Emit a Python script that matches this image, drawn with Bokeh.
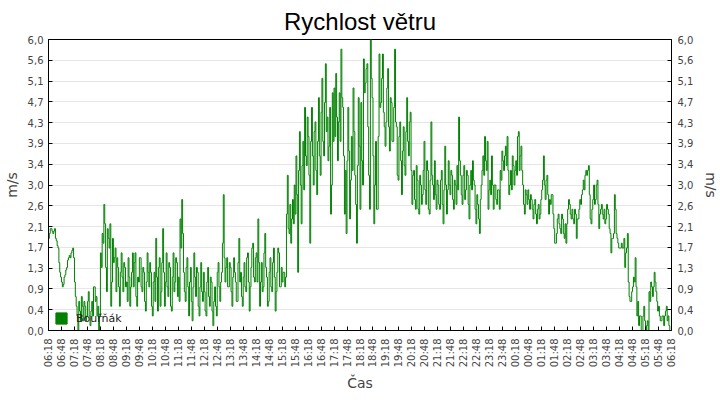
from bokeh.plotting import figure
from bokeh.models import (Range1d, LinearAxis, FixedTicker, CustomJSTickFormatter,
                          Legend, LegendItem, ColumnDataSource)
from bokeh.embed import file_html
from bokeh.resources import INLINE

# wind speed (m/s), one value every 2 minutes; each list is one hour starting at hh:18
h06 = [1.9, 2.0, 2.1, 2.1, 2.05, 2.0, 2.05, 2.1, 1.9, 1.85, 1.75, 1.7, 1.4, 1.2, 1.1, 1.0, 0.9, 0.95, 1.1, 1.15, 1.25, 1.3, 1.45, 1.5, 1.55, 1.5, 1.6, 1.65, 1.7, 1.5]
h07 = [1.0, 0.7, 0.5, 0.3, 0.0, 0.6, 0.4, 0.2, 0.7, 0.5, 0.2, 0.6, 0.5, 0.2, 0.3, 0.6, 0.8, 0.3, 0.1, 0.4, 0.6, 0.3, 0.9, 0.9, 0.6, 0.7, 0.3, 0.5, 0.0, 0.3]
h08 = [1.6, 1.3, 2.0, 1.8, 2.6, 2.2, 1.3, 0.8, 2.1, 1.9, 1.7, 2.2, 0.5, 1.0, 1.9, 1.4, 1.5, 1.7, 0.8, 1.5, 1.3, 0.9, 0.5, 1.2, 1.6, 1.1, 0.8, 1.4, 1.3, 0.9]
h09 = [1.0, 0.6, 1.5, 1.1, 0.5, 0.9, 1.2, 1.6, 0.9, 1.4, 1.6, 0.7, 0.5, 1.1, 1.0, 1.5, 1.5, 0.9, 0.8, 1.3, 1.2, 0.6, 0.4, 1.0, 1.6, 1.2, 0.9, 1.4, 1.2, 0.5]
h10 = [0.3, 1.0, 1.2, 0.6, 1.9, 1.1, 0.4, 1.3, 1.5, 0.5, 0.8, 1.4, 2.1, 1.2, 0.5, 1.0, 1.6, 0.9, 0.7, 1.4, 1.3, 0.5, 0.4, 1.1, 1.6, 0.8, 1.0, 1.5, 1.4, 0.7]
h11 = [1.1, 0.6, 2.3, 1.7, 2.7, 2.0, 1.2, 0.8, 0.6, 1.3, 1.5, 0.9, 0.3, 1.0, 1.3, 0.6, 0.2, 0.9, 1.6, 1.1, 0.7, 1.3, 1.2, 0.5, 0.3, 0.9, 1.4, 0.8, 0.6, 1.2]
h12 = [0.8, 0.4, 0.3, 1.0, 1.3, 0.7, 0.5, 1.1, 1.0, 0.4, 0.1, 0.6, 0.9, 0.5, 0.3, 1.2, 1.4, 0.9, 0.6, 1.0, 1.2, 1.8, 2.8, 1.5, 1.0, 1.3, 1.5, 0.9, 0.9, 1.4]
h13 = [1.3, 0.8, 0.5, 1.1, 1.5, 1.2, 1.0, 0.6, 0.6, 1.4, 1.9, 1.0, 1.2, 0.7, 0.5, 1.1, 1.4, 0.9, 0.8, 1.5, 1.6, 1.0, 0.4, 0.9, 1.3, 1.7, 1.8, 1.1, 1.0, 1.5]
h14 = [1.6, 1.0, 2.3, 1.4, 0.5, 1.0, 1.4, 0.8, 0.9, 1.6, 2.0, 1.3, 1.1, 0.5, 0.6, 1.2, 1.5, 0.9, 0.8, 1.4, 1.7, 1.1, 0.4, 0.8, 1.2, 1.7, 1.6, 0.9, 0.9, 1.3]
h15 = [1.0, 1.2, 1.2, 0.9, 1.1, 2.4, 3.2, 2.1, 2.0, 2.6, 1.8, 2.3, 2.7, 2.2, 3.0, 2.4, 3.6, 2.8, 1.2, 3.3, 4.1, 3.0, 2.2, 3.4, 3.9, 2.9, 4.6, 3.6, 3.4, 4.4]
h16 = [4.0, 3.2, 1.8, 3.9, 4.6, 3.6, 3.0, 4.1, 4.3, 3.3, 2.8, 3.9, 4.8, 3.6, 3.2, 4.5, 5.2, 3.9, 3.6, 4.7, 5.5, 4.1, 4.4, 3.5, 3.8, 4.6, 2.4, 3.0, 4.9, 3.9]
h17 = [5.0, 4.0, 5.3, 4.4, 3.5, 4.3, 4.9, 3.9, 5.8, 4.8, 4.6, 3.6, 2.4, 3.3, 2.0, 3.5, 4.6, 3.7, 2.3, 3.1, 4.0, 3.3, 5.0, 4.1, 3.2, 2.6, 1.8, 3.4, 4.8, 3.8]
h18 = [2.5, 4.7, 3.5, 3.0, 5.6, 4.9, 5.1, 5.4, 5.5, 4.2, 3.2, 2.5, 6.0, 5.2, 4.8, 3.6, 2.2, 3.0, 3.9, 2.5, 2.5, 4.0, 5.7, 4.6, 4.7, 5.2, 5.7, 4.5, 4.2, 3.8]
h19 = [4.3, 5.0, 5.4, 4.2, 3.7, 4.8, 4.7, 3.9, 3.9, 4.6, 5.8, 4.3, 4.2, 3.2, 3.1, 4.0, 4.3, 3.5, 2.8, 3.7, 4.2, 3.4, 3.2, 4.1, 4.8, 3.9, 3.6, 4.3, 4.5, 3.3]
h20 = [2.6, 3.2, 3.3, 2.7, 2.5, 3.4, 3.1, 2.5, 2.4, 3.2, 3.0, 2.6, 2.8, 3.3, 3.9, 2.9, 2.6, 3.5, 3.3, 2.5, 2.4, 3.1, 4.3, 3.2, 3.0, 2.7, 3.5, 2.8, 2.5, 3.1]
h21 = [3.0, 2.6, 2.5, 3.1, 3.3, 2.6, 2.2, 2.9, 3.8, 3.0, 2.4, 2.9, 3.5, 3.0, 2.8, 3.3, 3.2, 2.7, 2.5, 3.1, 3.0, 2.6, 3.4, 2.9, 4.4, 3.5, 3.2, 2.8, 2.6, 3.2]
h22 = [3.4, 2.7, 2.9, 3.3, 3.2, 2.6, 2.3, 3.0, 3.3, 2.9, 3.5, 3.1, 3.0, 2.5, 2.2, 2.8, 2.6, 2.3, 2.0, 2.7, 3.0, 3.3, 3.6, 3.2, 4.0, 3.5, 3.3, 3.9, 2.5, 2.9]
h23 = [3.1, 2.8, 3.6, 3.0, 2.5, 3.0, 3.0, 2.7, 2.6, 2.9, 2.9, 2.5, 3.3, 3.1, 3.7, 3.5, 3.3, 3.6, 3.8, 3.4, 4.0, 3.3, 2.8, 3.0, 3.3, 2.9, 3.6, 3.4, 3.0, 3.3]
h00 = [3.5, 3.2, 4.0, 4.1, 3.3, 3.6, 3.8, 3.3, 3.0, 2.6, 2.4, 2.9, 2.8, 2.6, 2.9, 2.7, 2.5, 2.8, 2.7, 2.5, 2.3, 2.6, 2.7, 2.4, 2.2, 2.5, 2.6, 2.3, 2.4, 2.7]
h01 = [2.9, 3.1, 3.6, 3.0, 2.7, 3.1, 3.2, 2.8, 2.4, 2.7, 2.6, 2.8, 2.8, 2.4, 2.1, 1.8, 1.8, 2.0, 2.3, 2.4, 2.2, 2.1, 2.0, 2.4, 2.3, 2.0, 1.9, 2.2, 1.8, 2.2]
h02 = [2.5, 2.7, 2.6, 2.4, 2.3, 2.5, 2.3, 2.2, 2.5, 2.4, 1.9, 2.3, 2.3, 2.5, 2.7, 2.6, 2.8, 2.9, 3.1, 2.9, 3.2, 3.3, 3.2, 3.3, 3.4, 2.8, 2.3, 2.2, 2.5, 2.7]
h03 = [3.0, 2.6, 2.7, 3.0, 3.1, 2.6, 2.1, 2.4, 2.5, 2.6, 2.4, 2.3, 2.5, 2.2, 2.3, 2.6, 2.5, 2.4, 2.1, 2.0, 1.6, 1.9, 1.9, 2.0, 2.8, 2.5, 2.0, 1.9, 1.8, 1.7]
h04 = [1.7, 1.7, 1.8, 1.7, 1.7, 1.9, 1.3, 1.6, 1.7, 2.0, 1.0, 0.7, 0.6, 0.6, 0.8, 0.9, 1.1, 1.0, 1.5, 0.9, 0.3, 0.6, 0.1, 0.3, 0.3, 0.0, 0.0, 0.3, 0.5, 0.2]
h05 = [0.0, 0.1, 0.2, 0.0, 0.8, 0.6, 1.0, 0.9, 0.7, 0.9, 1.2, 1.0, 0.8, 0.6, 0.4, 0.5, 0.3, 0.2, 0.2, 0.3, 0.3, 0.1, 0.3, 0.4, 0.5, 0.2, 0.3, 0.1, 0.0, 0.0]
last = [0.0]

hours = [h06, h07, h08, h09, h10, h11, h12, h13, h14, h15, h16, h17,
         h18, h19, h20, h21, h22, h23, h00, h01, h02, h03, h04, h05]

tick_labels = ["06:18", "06:48", "07:18", "07:48", "08:18", "08:48", "09:18", "09:48",
               "10:18", "10:48", "11:18", "11:48", "12:18", "12:48", "13:18", "13:48",
               "14:18", "14:48", "15:18", "15:48", "16:18", "16:48", "17:18", "17:48",
               "18:18", "18:48", "19:18", "19:48", "20:18", "20:48", "21:18", "21:48",
               "22:18", "22:48", "23:18", "23:48", "00:18", "00:48", "01:18", "01:48",
               "02:18", "02:48", "03:18", "03:48", "04:18", "04:48", "05:18", "05:48",
               "06:18"]

y_ticks = [6 * i / 14 for i in range(15)]

minutes, speed = [], []
for hi, vals in enumerate(hours):
    for j, v in enumerate(vals):
        minutes.append(hi * 60 + j * 60 / len(vals))
        speed.append(v)
minutes.append(len(hours) * 60)
speed.append(last[0])

x_ticks = [30 * i for i in range(len(tick_labels))]

src = ColumnDataSource(dict(t=minutes, v=speed))

FONT = "DejaVu Sans"
GREY = "#444444"

p = figure(frame_width=623, frame_height=291, output_backend="svg", toolbar_location=None,
           x_range=Range1d(0, x_ticks[-1]), y_range=Range1d(0, 6),
           min_border_left=40, min_border_right=10, min_border_top=34, min_border_bottom=10,
           title="Rychlost větru", background_fill_color="white", border_fill_color="white")

p.title.align = "center"
p.title.text_font = "Liberation Sans"
p.title.text_font_size = "24px"
p.title.text_font_style = "normal"
p.title.text_color = "black"

p.outline_line_color = "black"
p.outline_line_width = 1

p.step(x="t", y="v", source=src, mode="after", line_color="#008000", line_width=1)

ytick_fmt = CustomJSTickFormatter(code="return tick.toFixed(1).replace('.', ',');")


def style_axis(ax):
    ax.axis_line_color = "black"
    ax.major_tick_line_color = "black"
    ax.major_tick_in = 4
    ax.major_tick_out = 0
    ax.minor_tick_line_color = None
    ax.major_label_text_font = FONT
    ax.major_label_text_font_size = "10px"
    ax.major_label_text_color = GREY
    ax.axis_label_text_font = FONT
    ax.axis_label_text_font_size = "14px"
    ax.axis_label_text_font_style = "normal"
    ax.axis_label_text_color = GREY


# x axis
xa = p.xaxis[0]
xa.ticker = FixedTicker(ticks=x_ticks)
xa.major_label_overrides = {t: lab for t, lab in zip(x_ticks, tick_labels)}
xa.major_label_orientation = 3.14159265 / 2
xa.axis_label = "Čas"
style_axis(xa)
xa.major_label_standoff = 8
xa.axis_label_standoff = 5

# left y axis
ya = p.yaxis[0]
ya.ticker = FixedTicker(ticks=y_ticks)
ya.formatter = ytick_fmt
ya.axis_label = "m/s"
style_axis(ya)
ya.major_label_standoff = 5
ya.axis_label_standoff = 5

# right y axis
yr = LinearAxis(ticker=FixedTicker(ticks=y_ticks), formatter=ytick_fmt, axis_label="m/s")
style_axis(yr)
yr.major_label_standoff = 6
yr.axis_label_standoff = 7
p.add_layout(yr, "right")

p.xgrid.grid_line_color = None
p.ygrid.ticker = FixedTicker(ticks=y_ticks)
p.ygrid.grid_line_color = "#e6e6e6"
p.ygrid.grid_line_width = 1

# legend with a filled square (the quad itself has no visible extent)
nan = float("nan")
sq = p.quad(left=[nan], right=[nan], top=[nan], bottom=[nan],
            fill_color="#008000", line_color="#008000")
legend = Legend(items=[LegendItem(label="Bouřňák", renderers=[sq])], location=(6, 5),
                padding=0, margin=0, spacing=0, border_line_color=None,
                background_fill_alpha=0, glyph_width=14, glyph_height=14,
                label_standoff=8, label_text_font=FONT, label_text_font_size="11px",
                label_text_color="#222222", label_height=14)
p.add_layout(legend)

open("out.html", "w").write(file_html(p, INLINE))
